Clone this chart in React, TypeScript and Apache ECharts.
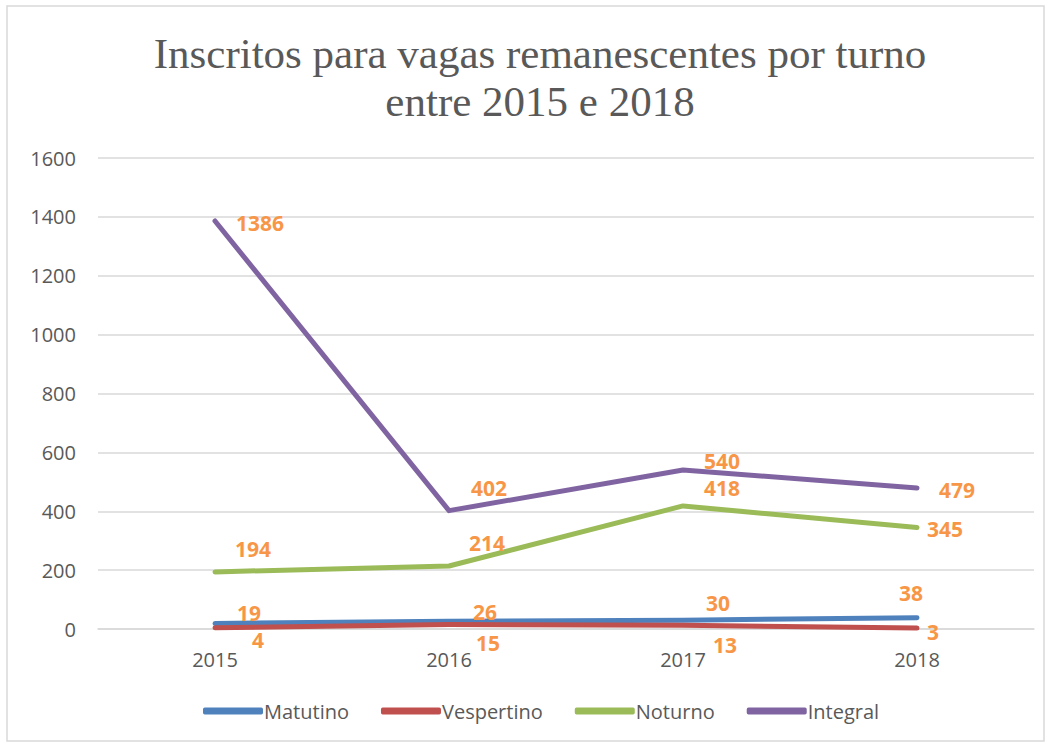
import React, { useEffect, useRef } from "react";
import * as echarts from "echarts";

const years = ["2015", "2016", "2017", "2018"];
const seriesNames = ["Matutino", "Vespertino", "Noturno", "Integral"];
const matutino = [19, 26, 30, 38];
const vespertino = [4, 15, 13, 3];
const noturno = [194, 214, 418, 345];
const integral = [1386, 402, 540, 479];
const yTicks = { min: 0, max: 1600, interval: 200 };

// label offsets (px) relative to each point, per series
const matutinoLabelOffsets = [[34, -10], [36, -9], [35, -17], [-6, -25]];
const vespertinoLabelOffsets = [[43, 12], [39, 18], [42, 20], [16, 4]];
const noturnoLabelOffsets = [[38, -23], [38, -23], [39, -18], [28, 2]];
const integralLabelOffsets = [[45, 2], [40, -23], [39, -9], [40, 2]];

const colors = ["#4F81BD", "#C0504D", "#9BBB59", "#8064A2"];

export default function App() {
  const ref = useRef<HTMLDivElement>(null);
  useEffect(() => {
    if (!ref.current) return;
    const chart = echarts.init(ref.current, null, { renderer: "svg" });
    const mk = (name: string, values: number[], offs: number[][], color: string) => ({
      name,
      type: "line",
      data: values.map((v, i) => ({ value: v, label: { offset: offs[i] } })),
      symbol: "circle",
      symbolSize: 0,
      showSymbol: true,
      lineStyle: { width: 5, color, cap: "round", join: "round" },
      itemStyle: { color },
      label: {
        show: true,
        position: "inside",
        color: "#F79646",
        fontFamily: "Open Sans",
        fontWeight: "bold",
        fontSize: 21,
        lineHeight: 22,
      },
      emphasis: { disabled: true },
    });
    chart.setOption({
      animation: false,
      title: {
        text: "Inscritos para vagas remanescentes por turno\nentre 2015 e 2018",
        left: 535,
        textAlign: "center",
        top: 24,
        textStyle: {
          fontFamily: "Liberation Serif",
          fontWeight: "normal",
          fontSize: 43,
          lineHeight: 48,
          color: "#595959",
        },
      },
      color: colors,
      legend: {
        data: seriesNames,
        bottom: 20,
        left: 198,
        icon: "roundRect",
        itemWidth: 60,
        itemHeight: 7,
        itemGap: 32,
        textStyle: { fontFamily: "Open Sans", fontSize: 20, color: "#595959", padding: [0, 0, 0, -4] },
      },
      grid: { left: 98, top: 158, width: 936, height: 471 },
      xAxis: {
        type: "category",
        data: years,
        boundaryGap: true,
        axisLine: { show: true, lineStyle: { color: "#D9D9D9", width: 1.5 } },
        axisTick: { show: false },
        axisLabel: { fontFamily: "Open Sans", fontSize: 20, color: "#595959", margin: 20 },
      },
      yAxis: {
        type: "value",
        min: yTicks.min,
        max: yTicks.max,
        interval: yTicks.interval,
        axisLine: { show: false },
        axisTick: { show: false },
        splitLine: { lineStyle: { color: "#D9D9D9", width: 1.5 } },
        axisLabel: {
          fontFamily: "Open Sans",
          fontSize: 20,
          color: "#595959",
          margin: 22,
          formatter: (v: number) => String(v),
        },
      },
      graphic: [
        {
          type: "rect",
          shape: { x: 7, y: 6, width: 1037, height: 735 },
          style: { fill: "none", stroke: "#D9D9D9", lineWidth: 1.5 },
          silent: true,
          z: -1,
        },
      ],
      series: [
        mk(seriesNames[0], matutino, matutinoLabelOffsets, colors[0]),
        mk(seriesNames[1], vespertino, vespertinoLabelOffsets, colors[1]),
        mk(seriesNames[2], noturno, noturnoLabelOffsets, colors[2]),
        mk(seriesNames[3], integral, integralLabelOffsets, colors[3]),
      ],
    });
    return () => chart.dispose();
  }, []);
  return (
    <div
      ref={ref}
      style={{ position: "fixed", left: 0, top: 0, width: 1050, height: 746, background: "#fff" }}
    />
  );
}
